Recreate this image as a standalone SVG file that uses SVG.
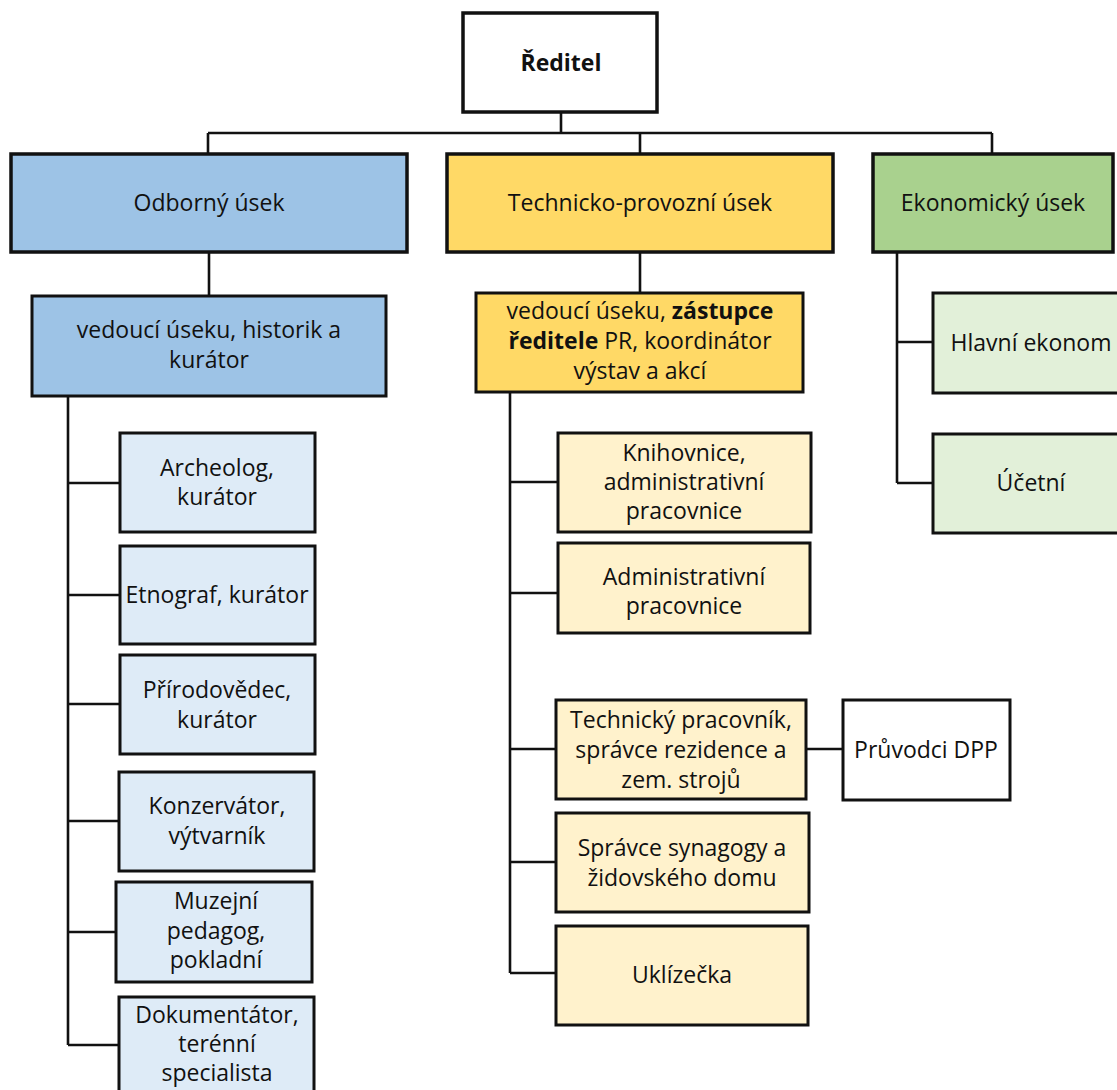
<svg xmlns="http://www.w3.org/2000/svg" width="1117" height="1090" viewBox="0 0 1117 1090">
<style>
text{font-family:"Open Sans",Lato,"Liberation Sans",sans-serif;font-size:23px;fill:#111;text-anchor:middle}
rect{stroke:#111;stroke-width:3}
.head rect{stroke-width:3.5}
.w{fill:#fff}.b1{fill:#9dc3e6}.y1{fill:#ffd966}.g1{fill:#a9d18e}
.b2{fill:#deebf7}.y2{fill:#fff2cc}.g2{fill:#e2f0d9}
#connectors path{fill:none;stroke:#111;stroke-width:2.6}
</style>
<rect width="1117" height="1090" fill="#fff" style="stroke:none"/>
<g id="connectors">
<path d="M561 112V133M208 133H992M208 133V154M640 133V154M992 133V154"/>
<path d="M209 252V296M640 252V293M897 252V483"/>
<path d="M68 396V1045M68 483H120M68 595H120M68 704H120M68 821H119M68 932H116M68 1045H119"/>
<path d="M510 392V973M510 482H558M510 593H558M510 749H556M510 862H556M510 973H556M806 749H843"/>
<path d="M897 342H933M897 483H933"/>
</g>
<g id="reditel" class="head"><rect class="w" x="463" y="13" width="194" height="99"/><text x="561" y="71" style="font-weight:bold">Ředitel</text></g>
<g id="odborny" class="head"><rect class="b1" x="11" y="154" width="396" height="98"/><text x="209" y="211">Odborný úsek</text></g>
<g id="technicko" class="head"><rect class="y1" x="447" y="154" width="386" height="98"/><text x="640" y="211">Technicko-provozní úsek</text></g>
<g id="ekonomicky" class="head"><rect class="g1" x="873" y="154" width="240" height="98"/><text x="993" y="211">Ekonomický úsek</text></g>
<g id="vedouci-odb"><rect class="b1" x="32" y="296" width="354" height="100"/><text x="209" y="338">vedoucí úseku, historik a</text><text x="209" y="368">kurátor</text></g>
<g id="vedouci-tech"><rect class="y1" x="476" y="293" width="327" height="99"/><text x="640" y="319">vedoucí úseku, <tspan font-weight="bold">zástupce</tspan></text><text x="640" y="349"><tspan font-weight="bold">ředitele</tspan> PR, koordinátor</text><text x="640" y="379">výstav a akcí</text></g>
<g id="archeolog"><rect class="b2" x="120" y="433" width="195" height="99"/><text x="217" y="476">Archeolog,</text><text x="217" y="505">kurátor</text></g>
<g id="etnograf"><rect class="b2" x="120" y="546" width="195" height="98"/><text x="217" y="603">Etnograf, kurátor</text></g>
<g id="prirodovedec"><rect class="b2" x="120" y="655" width="195" height="99"/><text x="217" y="698">Přírodovědec,</text><text x="217" y="728">kurátor</text></g>
<g id="konzervator"><rect class="b2" x="119" y="772" width="195" height="99"/><text x="217" y="814">Konzervátor,</text><text x="217" y="844">výtvarník</text></g>
<g id="muzejni"><rect class="b2" x="116" y="882" width="196" height="100"/><text x="216" y="909">Muzejní</text><text x="216" y="939">pedagog,</text><text x="216" y="968">pokladní</text></g>
<g id="dokumentator"><rect class="b2" x="119" y="997" width="195" height="110"/><text x="217" y="1023">Dokumentátor,</text><text x="217" y="1052">terénní</text><text x="217" y="1081">specialista</text></g>
<g id="knihovnice"><rect class="y2" x="558" y="433" width="253" height="99"/><text x="684" y="461">Knihovnice,</text><text x="684" y="490">administrativní</text><text x="684" y="519">pracovnice</text></g>
<g id="administrativni"><rect class="y2" x="558" y="543" width="252" height="90"/><text x="684" y="585">Administrativní</text><text x="684" y="614">pracovnice</text></g>
<g id="technicky"><rect class="y2" x="556" y="700" width="250" height="99"/><text x="681" y="728">Technický pracovník,</text><text x="681" y="758">správce rezidence a</text><text x="681" y="788">zem. strojů</text></g>
<g id="pruvodci"><rect class="w" x="843" y="700" width="167" height="100"/><text x="926" y="758">Průvodci DPP</text></g>
<g id="spravce"><rect class="y2" x="556" y="813" width="253" height="99"/><text x="682" y="856">Správce synagogy a</text><text x="682" y="886">židovského domu</text></g>
<g id="uklizecka"><rect class="y2" x="556" y="926" width="252" height="99"/><text x="682" y="983">Uklízečka</text></g>
<g id="hlavni"><rect class="g2" x="933" y="293" width="200" height="100"/><text x="1031" y="351">Hlavní ekonom</text></g>
<g id="ucetni"><rect class="g2" x="933" y="434" width="200" height="99"/><text x="1031" y="491">Účetní</text></g>
</svg>
